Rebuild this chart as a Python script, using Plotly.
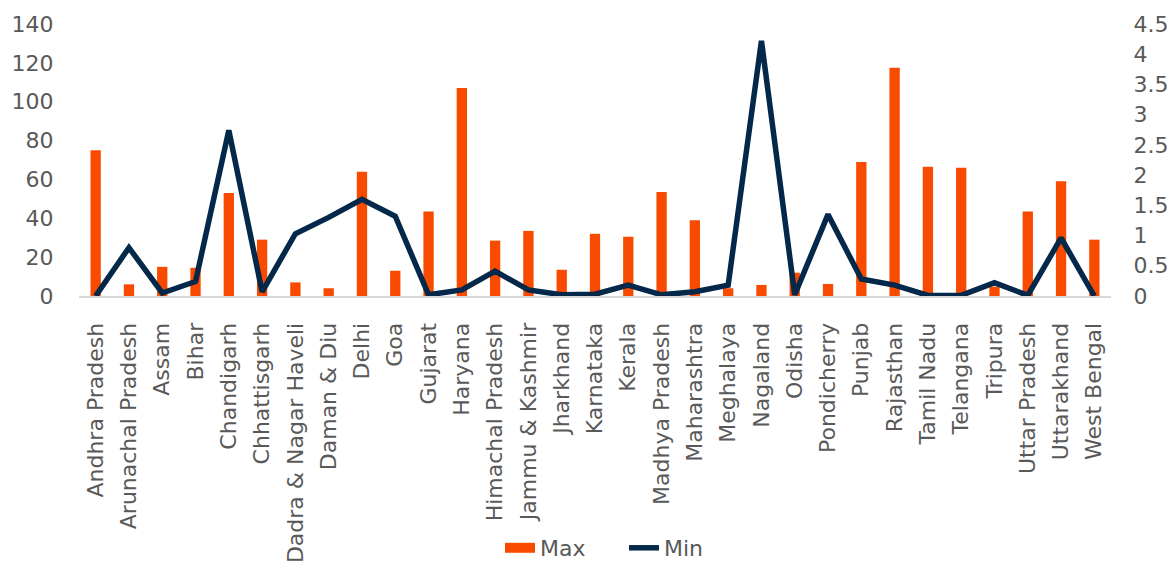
import plotly.graph_objects as go

states = ["Andhra Pradesh", "Arunachal Pradesh", "Assam", "Bihar", "Chandigarh", "Chhattisgarh",
          "Dadra & Nagar Haveli", "Daman & Diu", "Delhi", "Goa", "Gujarat", "Haryana",
          "Himachal Pradesh", "Jammu & Kashmir", "Jharkhand", "Karnataka", "Kerala",
          "Madhya Pradesh", "Maharashtra", "Meghalaya", "Nagaland", "Odisha", "Pondicherry",
          "Punjab", "Rajasthan", "Tamil Nadu", "Telangana", "Tripura", "Uttar Pradesh",
          "Uttarakhand", "West Bengal"]
max_vals = [75, 6, 15, 14.5, 53, 29, 7, 4, 64, 13, 43.5, 107, 28.5, 33.5, 13.5, 32, 30.5,
            53.5, 39, 4, 5.7, 12, 6.2, 69, 117.5, 66.5, 66, 4.8, 43.5, 59, 29]
min_vals = [0, 0.80, 0.05, 0.24, 2.74, 0.07, 1.03, 1.30, 1.60, 1.32, 0.02, 0.10, 0.41, 0.10,
            0.02, 0.03, 0.18, 0.02, 0.07, 0.18, 4.22, 0.02, 1.35, 0.28, 0.18, 0.01, 0.01,
            0.22, 0.01, 0.96, 0.0]
left_ticks = [0, 20, 40, 60, 80, 100, 120, 140]
right_ticks = [0, 0.5, 1, 1.5, 2, 2.5, 3, 3.5, 4, 4.5]
right_labels = ["0", "0.5", "1", "1.5", "2", "2.5", "3", "3.5", "4", "4.5"]

FONT = "Verdana, DejaVu Sans, sans-serif"
GRAY = "#595959"
ORANGE = "#F94B00"
NAVY = "#03284A"

fig = go.Figure()
fig.add_trace(go.Bar(x=states, y=max_vals, name="Max", marker_color=ORANGE,
                     marker_line_width=0, yaxis="y", showlegend=False))
# legend entry with a wide rectangular swatch for the bars
fig.add_trace(go.Scatter(x=[None], y=[None], name="Max", mode="lines",
                         line=dict(color=ORANGE, width=14), yaxis="y", hoverinfo="skip"))
fig.add_trace(go.Scatter(x=states, y=min_vals, name="Min", mode="lines",
                         line=dict(color=NAVY, width=5.5), yaxis="y2"))

L, R = 79, 64

fig.update_layout(
    width=1175, height=581,
    margin=dict(l=L, r=R, t=24, b=285, autoexpand=False),
    paper_bgcolor="white", plot_bgcolor="white",
    font=dict(family=FONT, size=22, color=GRAY),
    bargap=0.69,
    showlegend=True,
    legend=dict(orientation="h", xref="container", x=500 / 1175, xanchor="left",
                yref="container", y=(581 - 548) / 581, yanchor="middle",
                entrywidth=79, entrywidthmode="pixels",
                font=dict(size=22, color=GRAY), traceorder="normal"),
    xaxis=dict(tickangle=-90, showgrid=False, showline=True, linecolor="#d9d9d9", linewidth=2,
               ticks="outside", ticklen=16, tickcolor="rgba(0,0,0,0)", automargin=False,
               tickfont=dict(size=22, color=GRAY), categoryorder="array", categoryarray=states),
    yaxis=dict(range=[0, 140], tickvals=left_ticks, showgrid=False, zeroline=False,
               ticks="outside", ticklen=20, tickcolor="rgba(0,0,0,0)", automargin=False,
               tickfont=dict(size=22, color=GRAY)),
    yaxis2=dict(range=[0, 4.5], tickvals=right_ticks, ticktext=right_labels, overlaying="y",
                side="right", showgrid=False, zeroline=False, automargin=False,
                ticks="outside", ticklen=17, tickcolor="rgba(0,0,0,0)",
                tickfont=dict(size=22, color=GRAY)),
)

fig.write_html("out.html")
